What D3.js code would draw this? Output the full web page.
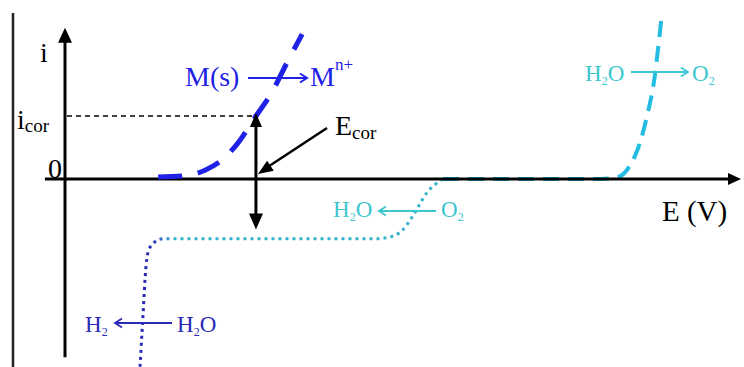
<!DOCTYPE html>
<html>
<head>
<meta charset="utf-8">
<script src="https://cdn.jsdelivr.net/npm/d3@7"></script>
<style>
  body { margin: 0; background: #fff; }
  svg { display: block; }
  text { font-family: "Liberation Serif", "Times New Roman", serif; }
</style>
</head>
<body>
<svg id="chart" width="744" height="367"></svg>
<script>
// Potential E (arbitrary units) and current i (in units of i_cor)
const metalE = [1.39, 1.79, 2.09, 2.34, 2.58, 2.85, 3.09, 3.31, 3.54];
const metalI = [0.03, 0.05, 0.14, 0.30, 0.57, 1.00, 1.38, 1.84, 2.30];

const oxE = [5.64, 7.99, 8.25, 8.43, 8.58, 8.70, 8.79, 8.85, 8.91];
const oxI = [0.00, 0.00, 0.03, 0.21, 0.57, 1.06, 1.54, 2.05, 2.63];

const redE = [5.64, 5.40, 5.19, 5.04, 4.85, 4.63, 1.46, 1.34, 1.25, 1.21, 1.16, 1.12];
const redI = [0.00, -0.22, -0.59, -0.81, -0.92, -0.95, -0.95, -1.00, -1.13, -1.37, -2.24, -2.98];

const Ecor = 2.85;
const icor = 1.0;

// Axis extents
const eAxis = [-0.3, 10.09];
const iAxis = [-2.83, 2.40];

const tickLabels = ["0", "i", "cor"];
const axisTitles = ["i", "E (V)"];

const svg = d3.select("#chart");
const x = d3.scaleLinear().domain([0, 10]).range([65, 735]);
const y = d3.scaleLinear().domain([0, 1]).range([179, 116]);

const BLUE = "#1f22e6";
const DARKBLUE = "#2a2ab8";
const CYAN = "#22bde0";
const CYANTXT = "#3cc6cf";
const DOTCYAN = "#35b2cc";

const defs = svg.append("defs");
const grad = defs.append("linearGradient")
  .attr("id", "redGrad").attr("gradientUnits", "userSpaceOnUse")
  .attr("x1", x(1.28)).attr("x2", x(1.6)).attr("y1", 0).attr("y2", 0);
grad.append("stop").attr("offset", 0).attr("stop-color", DARKBLUE);
grad.append("stop").attr("offset", 1).attr("stop-color", DOTCYAN);

// frame line on the left
svg.append("line").attr("x1", 13).attr("x2", 13).attr("y1", 13).attr("y2", 367)
  .attr("stroke", "#222").attr("stroke-width", 2.5);

function arrowHead(tipX, tipY, dx, dy, len, half, color) {
  const n = Math.hypot(dx, dy), ux = dx / n, uy = dy / n;
  const bx = tipX - ux * len, by = tipY - uy * len;
  const px = -uy * half, py = ux * half;
  svg.append("path")
    .attr("d", `M${tipX},${tipY}L${bx + px},${by + py}L${bx - px},${by - py}Z`)
    .attr("fill", color);
}

const line = d3.line().x((d) => x(d[0])).y((d) => y(d[1])).curve(d3.curveMonotoneX);

// cathodic branch: O2 reduction then H2 evolution
svg.append("path")
  .attr("d", line(d3.zip(redE, redI)))
  .attr("fill", "none").attr("stroke", "url(#redGrad)")
  .attr("stroke-width", 3).attr("stroke-dasharray", "3,4");

// anodic branch: water oxidation (flat part runs under the E axis)
svg.append("path")
  .attr("d", line(d3.zip(oxE, oxI)))
  .attr("fill", "none").attr("stroke", CYAN)
  .attr("stroke-width", 4).attr("stroke-dasharray", "16,9");

// axes
svg.append("line").attr("x1", x(0)).attr("x2", x(0))
  .attr("y1", y(iAxis[0])).attr("y2", y(iAxis[1]) + 10)
  .attr("stroke", "#000").attr("stroke-width", 3);
arrowHead(x(0), y(iAxis[1]), 0, -1, 15, 7, "#000");

svg.append("line").attr("x1", x(eAxis[0])).attr("x2", x(eAxis[1]) - 8)
  .attr("y1", y(0)).attr("y2", y(0))
  .attr("stroke", "#000").attr("stroke-width", 3.2);
arrowHead(x(eAxis[1]), y(0), 1, 0, 13, 6, "#000");

// anodic branch: metal dissolution
svg.append("path")
  .attr("d", line(d3.zip(metalE, metalI)))
  .attr("fill", "none").attr("stroke", BLUE)
  .attr("stroke-width", 5).attr("stroke-dasharray", "24,16");

// i_cor guide
svg.append("line").attr("x1", x(0) + 2).attr("x2", x(Ecor) - 2)
  .attr("y1", y(icor)).attr("y2", y(icor))
  .attr("stroke", "#000").attr("stroke-width", 1.4).attr("stroke-dasharray", "5,4");

// E_cor double arrow
svg.append("line").attr("x1", x(Ecor)).attr("x2", x(Ecor))
  .attr("y1", y(icor) + 10).attr("y2", y(-0.8) - 10)
  .attr("stroke", "#000").attr("stroke-width", 3);
arrowHead(x(Ecor), y(icor) - 3, 0, -1, 14, 6, "#000");
arrowHead(x(Ecor), y(-0.8), 0, 1, 16, 7, "#000");

// pointer to E_cor
const tail = [327, 128], tip = [x(Ecor) + 2, y(0) - 5];
svg.append("line").attr("x1", tail[0]).attr("y1", tail[1])
  .attr("x2", tip[0] + 9).attr("y2", tip[1] - 6.5)
  .attr("stroke", "#000").attr("stroke-width", 2.5);
arrowHead(tip[0], tip[1], tip[0] - tail[0], tip[1] - tail[1], 15, 6, "#000");

// labels
function label(xp, yp, parts, size, color) {
  const t = svg.append("text").attr("x", xp).attr("y", yp)
    .attr("font-size", size).attr("fill", color);
  let shift = 0;
  parts.forEach((p) => {
    const s = t.append("tspan").text(p.t);
    const want = p.sub ? p.sub : 0;
    if (want !== shift) { s.attr("dy", want - shift); shift = want; }
    if (p.sub) s.attr("font-size", p.fs || size * 0.6);
  });
  return t;
}

label(40, 62, [{ t: axisTitles[0] }], 28, "#000");
label(17, 129, [{ t: tickLabels[1] }, { t: tickLabels[2], sub: 3, fs: 19 }], 28, "#000");
label(48, 178, [{ t: tickLabels[0] }], 28, "#000");
label(335, 135, [{ t: "E" }, { t: "cor", sub: 4, fs: 19 }], 28, "#000");
label(662, 221, [{ t: axisTitles[1] }], 29, "#000");

function reactionArrow(x1, x2, yp, color, w) {
  svg.append("line").attr("x1", x1).attr("x2", x2).attr("y1", yp).attr("y2", yp)
    .attr("stroke", color).attr("stroke-width", w);
  const dir = Math.sign(x2 - x1);
  svg.append("path")
    .attr("d", `M${x2 - dir * 7},${yp - 4.5}L${x2},${yp}L${x2 - dir * 7},${yp + 4.5}`)
    .attr("fill", "none").attr("stroke", color).attr("stroke-width", w);
}

// M(s) -> M^n+
label(185, 86, [{ t: "M(s)" }], 28, BLUE);
reactionArrow(248, 307, 78, BLUE, 2);
label(310, 86, [{ t: "M" }, { t: "n+", sub: -16, fs: 17 }], 28, BLUE);

// H2O -> O2 (upper)
label(585, 81, [{ t: "H" }, { t: "2", sub: 4, fs: 12 }, { t: "O" }], 23, CYANTXT);
reactionArrow(631, 688, 72, CYANTXT, 1.8);
label(692, 81, [{ t: "O" }, { t: "2", sub: 4, fs: 12 }], 23, CYANTXT);

// H2O <- O2 (lower)
label(333, 217, [{ t: "H" }, { t: "2", sub: 4, fs: 12 }, { t: "O" }], 23, CYANTXT);
reactionArrow(436, 379, 211, CYANTXT, 1.8);
label(441, 217, [{ t: "O" }, { t: "2", sub: 4, fs: 12 }], 23, CYANTXT);

// H2 <- H2O
label(85, 332, [{ t: "H" }, { t: "2", sub: 4, fs: 12 }], 23, DARKBLUE);
reactionArrow(172, 115, 323, DARKBLUE, 1.8);
label(177, 332, [{ t: "H" }, { t: "2", sub: 4, fs: 12 }, { t: "O" }], 23, DARKBLUE);
</script>
</body>
</html>
